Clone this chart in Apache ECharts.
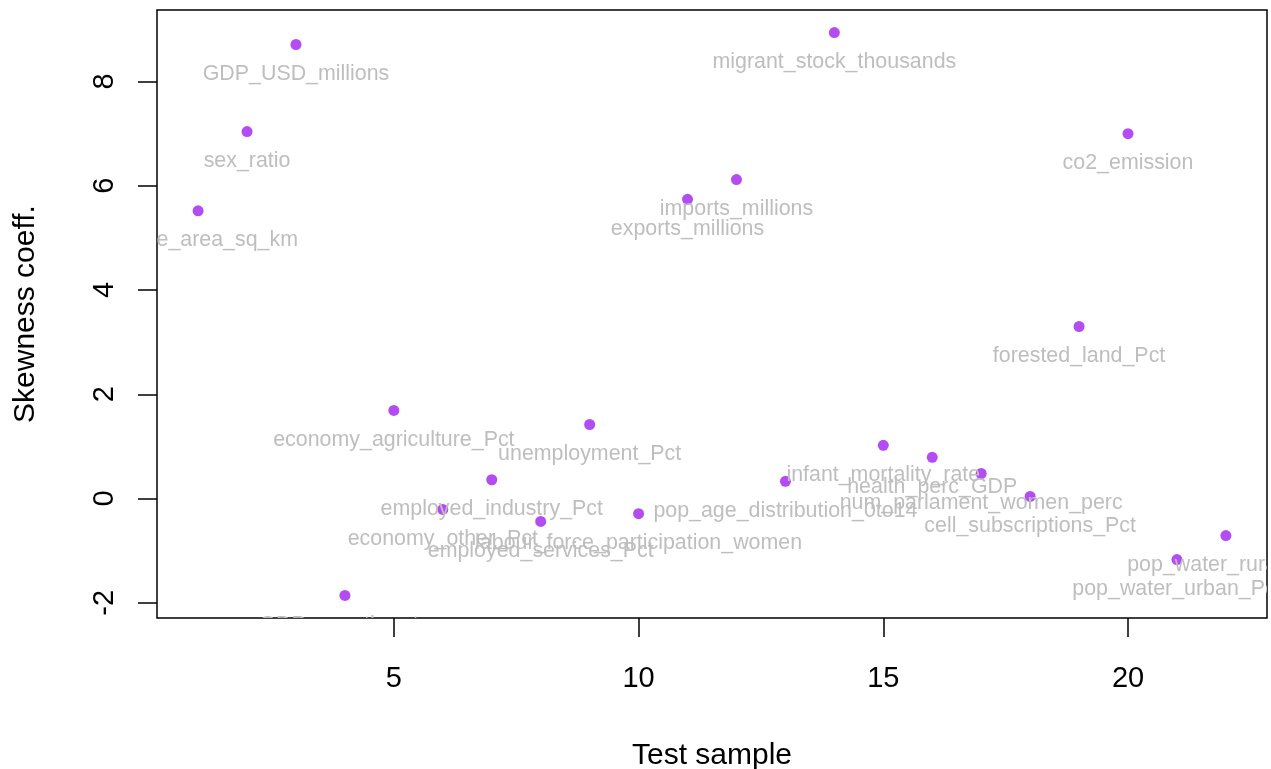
<!DOCTYPE html>
<html>
<head>
<meta charset="utf-8">
<script src="https://cdn.jsdelivr.net/npm/echarts@6/dist/echarts.min.js"></script>
<style>
html,body{margin:0;padding:0;background:#fff;}
#chart{width:1271px;height:769px;}
</style>
</head>
<body>
<div id="chart"></div>
<script>
// ---- data ----
const testSample = [1,2,3,4,5,6,7,8,9,10,11,12,13,14,15,16,17,18,19,20,21,22];
const skewness = [5.52,7.04,8.71,-1.86,1.69,-0.21,0.36,-0.44,1.42,-0.29,5.74,6.12,0.33,8.94,1.02,0.79,0.48,0.04,3.30,7.00,-1.17,-0.71];
const variableNames = [
  'surface_area_sq_km','sex_ratio','GDP_USD_millions','GDP_growth_rate',
  'economy_agriculture_Pct','economy_other_Pct','employed_industry_Pct','employed_services_Pct',
  'unemployment_Pct','labour_force_participation_women','exports_millions','imports_millions',
  'pop_age_distribution_0to14','migrant_stock_thousands','infant_mortality_rate','health_perc_GDP',
  'num_parlament_women_perc','cell_subscriptions_Pct','forested_land_Pct','co2_emission',
  'pop_water_urban_Pct','pop_water_rural_Pct'
];
const xTicks = [5,10,15,20];
const yTicks = [-2,0,2,4,6,8];
const xLimits = [0.16, 22.84];
const yLimits = [-2.292, 9.372];

const FONT = '"Liberation Sans", Arial, sans-serif';
const points = testSample.map((x,i)=>[x, skewness[i], variableNames[i]]);

const chart = echarts.init(document.getElementById('chart'), null, {renderer:'canvas'});
chart.setOption({
  animation:false,
  backgroundColor:'#ffffff',
  grid:{left:157, top:10, right:4, bottom:151, show:true, borderColor:'#000', borderWidth:1.5,
        backgroundColor:'transparent', containLabel:false, outerBoundsMode:'none'},
  xAxis:{
    type:'value', min:xLimits[0], max:xLimits[1],
    splitLine:{show:false},
    axisLine:{show:false, onZero:false},
    axisTick:{show:true, customValues:xTicks, length:19, inside:false, lineStyle:{color:'#000', width:1.5}},
    axisLabel:{customValues:xTicks, color:'#000', fontSize:29, fontFamily:FONT, margin:46},
    name:'Test sample', nameLocation:'middle', nameGap:123,
    nameTextStyle:{color:'#000', fontSize:30, fontFamily:FONT}
  },
  yAxis:{
    type:'value', min:yLimits[0], max:yLimits[1],
    splitLine:{show:false},
    axisLine:{show:false, onZero:false},
    axisTick:{show:true, customValues:yTicks, length:19, inside:false, lineStyle:{color:'#000', width:1.5}},
    axisLabel:{customValues:yTicks, color:'#000', fontSize:29, fontFamily:FONT, margin:38, rotate:90},
    name:'Skewness coeff.', nameLocation:'middle', nameGap:116, nameRotate:90,
    nameTextStyle:{color:'#000', fontSize:30, fontFamily:FONT}
  },
  series:[
    {
      type:'scatter',
      data:points.map(p=>[p[0],p[1]]),
      symbol:'circle', symbolSize:11,
      itemStyle:{color:'#A020F0'},
      z:2
    },
    {
      type:'custom',
      clip:true,
      data:points,
      encode:{x:0, y:1},
      z:3,
      silent:true,
      renderItem:function(params, api){
        const c = api.coord([api.value(0), api.value(1)]);
        return {
          type:'text',
          x:c[0], y:c[1]+29.5,
          style:{
            text: variableNames[params.dataIndex],
            fill:'#BEBEBE',
            fontSize:21.4,
            fontFamily:FONT,
            align:'center',
            verticalAlign:'middle'
          }
        };
      }
    }
  ]
});
</script>
</body>
</html>
